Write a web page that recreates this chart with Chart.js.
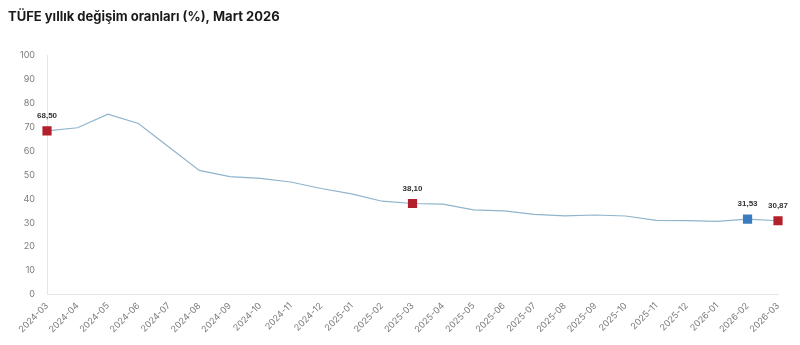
<!DOCTYPE html>
<html>
<head>
<meta charset="utf-8">
<script src="https://cdn.jsdelivr.net/npm/chart.js@4.4.1/dist/chart.umd.min.js"></script>
<style>
  html, body { margin: 0; padding: 0; background: #fff; }
  #wrap { width: 800px; height: 345px; position: relative; }
</style>
</head>
<body>
<div id="wrap"><canvas id="cpiChart" width="800" height="345"></canvas></div>
<script>
// veriler
var months = ['2024-03','2024-04','2024-05','2024-06','2024-07','2024-08','2024-09','2024-10','2024-11','2024-12',
              '2025-01','2025-02','2025-03','2025-04','2025-05','2025-06','2025-07','2025-08','2025-09','2025-10',
              '2025-11','2025-12','2026-01','2026-02','2026-03'];
var rates = [68.50, 69.80, 75.45, 71.60, 61.78, 51.97, 49.38, 48.58, 47.09, 44.38,
             42.12, 39.05, 38.10, 37.86, 35.41, 35.05, 33.52, 32.95, 33.29, 32.87,
             31.07, 30.89, 30.65, 31.53, 30.87];
var markedMonths = ['2024-03', '2025-03', '2026-02', '2026-03'];
var blueMonths = ['2026-02'];
var yTicks = [0, 10, 20, 30, 40, 50, 60, 70, 80, 90, 100];

var RED = '#b2202b';
var BLUE = '#3a7cbf';

var radii = months.map(function(m) { return markedMonths.includes(m) ? 6.5 : 0; });
var colors = months.map(function(m) { return blueMonths.includes(m) ? BLUE : RED; });

// işaretli noktaların üstüne değer yaz
var valueLabels = {
    id: 'valueLabels',
    afterDatasetsDraw: function(chart) {
        var ctx = chart.ctx;
        var meta = chart.getDatasetMeta(0);
        ctx.save();
        ctx.font = 'bold 8px "Liberation Sans", Arial, sans-serif';
        ctx.fillStyle = '#333';
        ctx.textAlign = 'center';
        ctx.textBaseline = 'bottom';
        months.forEach(function(m, i) {
            if (!markedMonths.includes(m)) return;
            var p = meta.data[i];
            ctx.fillText(rates[i].toFixed(2).replace('.', ','), p.x, p.y - 11);
        });
        ctx.restore();
    }
};

var ctx = document.getElementById('cpiChart').getContext('2d');
var chart = new Chart(ctx, {
    type: 'line',
    data: {
        labels: months,
        datasets: [{
            data: rates,
            borderColor: '#8fb4cb',
            borderWidth: 1.2,
            tension: 0,
            pointStyle: 'rect',
            pointRadius: radii,
            pointHoverRadius: radii,
            pointBackgroundColor: colors,
            pointBorderColor: colors,
            pointBorderWidth: 0
        }]
    },
    options: {
        responsive: false,
        animation: false,
        layout: { padding: { left: 8, right: 22, top: 0, bottom: 4 } },
        plugins: {
            legend: { display: false },
            tooltip: { enabled: false },
            title: {
                display: true,
                text: 'TÜFE yıllık değişim oranları (%), Mart 2026',
                align: 'start',
                color: '#1a1a1a',
                font: { family: 'Inter, "Noto Sans", sans-serif', size: 13, weight: 'bold' },
                padding: { top: 9, bottom: 31 }
            }
        },
        scales: {
            x: {
                offset: false,
                grid: { display: true, drawOnChartArea: false, drawTicks: false, color: '#e6e6e6' },
                border: { display: true, color: '#e6e6e6', width: 1 },
                ticks: {
                    color: '#7a7a7a',
                    font: { family: 'Inter, "Noto Sans", sans-serif', size: 9 },
                    minRotation: 45,
                    maxRotation: 45,
                    autoSkip: false,
                    padding: 6
                }
            },
            y: {
                min: 0,
                max: 100,
                afterBuildTicks: function(axis) {
                    axis.ticks = yTicks.map(function(v) { return { value: v }; });
                },
                grid: { display: true, drawOnChartArea: false, drawTicks: false, color: '#e6e6e6' },
                border: { display: true, color: '#e6e6e6', width: 1 },
                ticks: {
                    color: '#7a7a7a',
                    font: { family: 'Inter, "Noto Sans", sans-serif', size: 9 },
                    padding: 12
                }
            }
        }
    },
    plugins: [valueLabels]
});
</script>
</body>
</html>
